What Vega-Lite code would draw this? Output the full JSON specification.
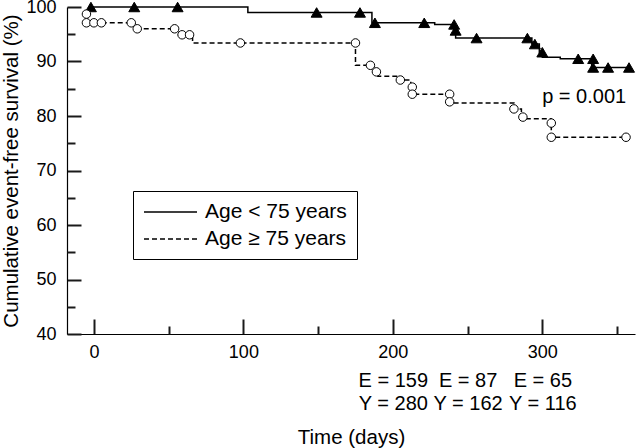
{
  "$schema": "https://vega.github.io/schema/vega-lite/v6.json",
  "width": 568,
  "height": 327,
  "autosize": {"type": "none"},
  "padding": {"left": 67, "top": 7, "right": 5, "bottom": 114},
  "config": {
    "view": {"stroke": null},
    "font": "Liberation Sans",
    "axis": {
      "grid": false,
      "domainColor": "#000",
      "labelColor": "#000",
      "titleColor": "#000",
      "labelFont": "Liberation Sans",
      "titleFont": "Liberation Sans",
      "labelFontSize": 18,
      "titleFontSize": 20.5,
      "titleFontWeight": "normal",
      "domainWidth": 1.2,
      "labelFlush": false,
      "labelOverlap": false
    }
  },
  "datasets": {
    "curve": [
      {"group": "Age < 75 years", "day": -2, "surv": 100},
      {"group": "Age < 75 years", "day": 103, "surv": 99.0},
      {"group": "Age < 75 years", "day": 186, "surv": 97.1},
      {"group": "Age < 75 years", "day": 228, "surv": 96.8},
      {"group": "Age < 75 years", "day": 241, "surv": 95.7},
      {"group": "Age < 75 years", "day": 242, "surv": 94.3},
      {"group": "Age < 75 years", "day": 293, "surv": 93.2},
      {"group": "Age < 75 years", "day": 298, "surv": 91.7},
      {"group": "Age < 75 years", "day": 300, "surv": 90.8},
      {"group": "Age < 75 years", "day": 312, "surv": 90.5},
      {"group": "Age < 75 years", "day": 333, "surv": 88.9},
      {"group": "Age < 75 years", "day": 358, "surv": 88.9},
      {"group": "Age ≥ 75 years", "day": -5, "surv": 98.7},
      {"group": "Age ≥ 75 years", "day": -4.5, "surv": 97.1},
      {"group": "Age ≥ 75 years", "day": 27, "surv": 96.0},
      {"group": "Age ≥ 75 years", "day": 56, "surv": 94.9},
      {"group": "Age ≥ 75 years", "day": 66, "surv": 93.4},
      {"group": "Age ≥ 75 years", "day": 175, "surv": 89.3},
      {"group": "Age ≥ 75 years", "day": 187, "surv": 88.1},
      {"group": "Age ≥ 75 years", "day": 190, "surv": 87.3},
      {"group": "Age ≥ 75 years", "day": 204, "surv": 86.6},
      {"group": "Age ≥ 75 years", "day": 212, "surv": 85.3},
      {"group": "Age ≥ 75 years", "day": 214, "surv": 84.0},
      {"group": "Age ≥ 75 years", "day": 239, "surv": 82.4},
      {"group": "Age ≥ 75 years", "day": 281, "surv": 81.3},
      {"group": "Age ≥ 75 years", "day": 286, "surv": 79.5},
      {"group": "Age ≥ 75 years", "day": 306, "surv": 76.1},
      {"group": "Age ≥ 75 years", "day": 356, "surv": 76.1}
    ],
    "censor": [
      {"cohort": "young", "day": -2, "surv": 100},
      {"cohort": "young", "day": 27, "surv": 100},
      {"cohort": "young", "day": 56, "surv": 100},
      {"cohort": "young", "day": 149, "surv": 99.0},
      {"cohort": "young", "day": 178, "surv": 99.0},
      {"cohort": "young", "day": 188, "surv": 97.1},
      {"cohort": "young", "day": 221, "surv": 97.1},
      {"cohort": "young", "day": 241, "surv": 96.8},
      {"cohort": "young", "day": 242, "surv": 95.7},
      {"cohort": "young", "day": 256, "surv": 94.3},
      {"cohort": "young", "day": 290, "surv": 94.3},
      {"cohort": "young", "day": 295, "surv": 93.2},
      {"cohort": "young", "day": 300, "surv": 91.7},
      {"cohort": "young", "day": 324, "surv": 90.5},
      {"cohort": "young", "day": 334, "surv": 90.5},
      {"cohort": "young", "day": 334, "surv": 88.9},
      {"cohort": "young", "day": 344, "surv": 88.9},
      {"cohort": "young", "day": 358, "surv": 88.9},
      {"cohort": "old", "day": -5, "surv": 98.7},
      {"cohort": "old", "day": -5, "surv": 97.1},
      {"cohort": "old", "day": 0, "surv": 97.1},
      {"cohort": "old", "day": 5, "surv": 97.1},
      {"cohort": "old", "day": 25, "surv": 97.1},
      {"cohort": "old", "day": 29, "surv": 96.0},
      {"cohort": "old", "day": 54, "surv": 96.0},
      {"cohort": "old", "day": 59, "surv": 94.9},
      {"cohort": "old", "day": 64, "surv": 94.9},
      {"cohort": "old", "day": 98, "surv": 93.4},
      {"cohort": "old", "day": 175, "surv": 93.4},
      {"cohort": "old", "day": 185, "surv": 89.3},
      {"cohort": "old", "day": 189, "surv": 88.1},
      {"cohort": "old", "day": 205, "surv": 86.6},
      {"cohort": "old", "day": 213, "surv": 85.3},
      {"cohort": "old", "day": 213, "surv": 84.0},
      {"cohort": "old", "day": 238, "surv": 84.0},
      {"cohort": "old", "day": 238, "surv": 82.6},
      {"cohort": "old", "day": 281, "surv": 81.3},
      {"cohort": "old", "day": 287, "surv": 79.8},
      {"cohort": "old", "day": 306, "surv": 78.7},
      {"cohort": "old", "day": 306, "surv": 76.1},
      {"cohort": "old", "day": 356, "surv": 76.1}
    ],
    "note": [
      {"day": 328, "surv": 83.5, "label": "p = 0.001"}
    ]
  },
  "layer": [
    {
      "data": {"name": "curve"},
      "mark": {"type": "line", "interpolate": "step-after", "color": "black", "strokeWidth": 1.5},
      "encoding": {
        "x": {
          "field": "day", "type": "quantitative",
          "scale": {"domain": [-18, 362], "nice": false, "zero": false},
          "axis": {"orient": "bottom", "values": [0, 100, 200, 300], "tickSize": -15, "tickColor": "#1a1a1a", "tickWidth": 2, "labelPadding": 24, "title": null}
        },
        "y": {
          "field": "surv", "type": "quantitative",
          "scale": {"domain": [40, 100], "nice": false, "zero": false},
          "axis": {"orient": "left", "values": [40, 50, 60, 70, 80, 90, 100], "tickSize": -14, "tickColor": "#1a1a1a", "tickWidth": 2, "labelPadding": 25, "title": "Cumulative event-free survival (%)", "titlePadding": 4}
        },
        "strokeDash": {
          "field": "group", "type": "nominal",
          "scale": {"domain": ["Age < 75 years", "Age ≥ 75 years"], "range": [[1, 0], [5, 3]]},
          "legend": {
            "orient": "none", "legendX": 66, "legendY": 184, "title": null,
            "symbolType": "M-1,0H4.3", "symbolSize": 400, "symbolStrokeWidth": 1.5,
            "symbolStrokeColor": "black", "labelFontSize": 21, "labelFont": "Liberation Sans",
            "labelColor": "black", "labelOffset": 40, "padding": 10, "rowPadding": 6,
            "strokeColor": "black", "fillColor": "white"
          }
        }
      }
    },
    {
      "data": {"name": "censor"},
      "transform": [{"filter": "datum.cohort == 'young'"}],
      "mark": {"type": "point", "shape": "triangle-up", "filled": true, "fill": "black", "stroke": "black", "strokeWidth": 1, "size": 120, "opacity": 1},
      "encoding": {
        "x": {
          "field": "day", "type": "quantitative",
          "scale": {"domain": [-18, 362], "nice": false, "zero": false},
          "axis": {"orient": "bottom", "values": [50, 150, 250, 350], "tickSize": -8, "tickColor": "#1a1a1a", "tickWidth": 2, "labels": false, "domain": false, "title": null}
        },
        "y": {
          "field": "surv", "type": "quantitative",
          "scale": {"domain": [40, 100], "nice": false, "zero": false},
          "axis": {"orient": "left", "values": [45, 55, 65, 75, 85, 95], "tickSize": -8, "tickColor": "#1a1a1a", "tickWidth": 2, "labels": false, "domain": false, "title": null}
        }
      }
    },
    {
      "data": {"name": "censor"},
      "transform": [{"filter": "datum.cohort == 'old'"}],
      "mark": {"type": "point", "shape": "circle", "filled": true, "fill": "white", "stroke": "black", "strokeWidth": 1, "size": 72, "opacity": 1},
      "encoding": {
        "x": {
          "field": "day", "type": "quantitative",
          "scale": {"domain": [-18, 362], "nice": false, "zero": false},
          "axis": null
        },
        "y": {
          "field": "surv", "type": "quantitative",
          "scale": {"domain": [40, 100], "nice": false, "zero": false},
          "axis": null
        }
      }
    },
    {
      "data": {"name": "note"},
      "mark": {"type": "text", "fontSize": 20, "align": "center", "baseline": "middle", "color": "black", "font": "Liberation Sans"},
      "encoding": {
        "x": {
          "field": "day", "type": "quantitative",
          "scale": {"domain": [-18, 362], "nice": false, "zero": false},
          "axis": {
            "orient": "bottom",
            "values": [200, 250, 300],
            "labelExpr": "datum.value == 200 ? ['E = 159', 'Y = 280'] : datum.value == 250 ? ['E = 87', 'Y = 162'] : ['E = 65', 'Y = 116']",
            "ticks": false, "domain": false, "labelPadding": 36, "labelLineHeight": 23, "labelFontSize": 20,
            "title": "Time (days)", "titlePadding": 14
          }
        },
        "y": {
          "field": "surv", "type": "quantitative",
          "scale": {"domain": [40, 100], "nice": false, "zero": false},
          "axis": null
        },
        "text": {"field": "label"}
      }
    }
  ],
  "resolve": {"axis": {"x": "independent", "y": "independent"}}
}
